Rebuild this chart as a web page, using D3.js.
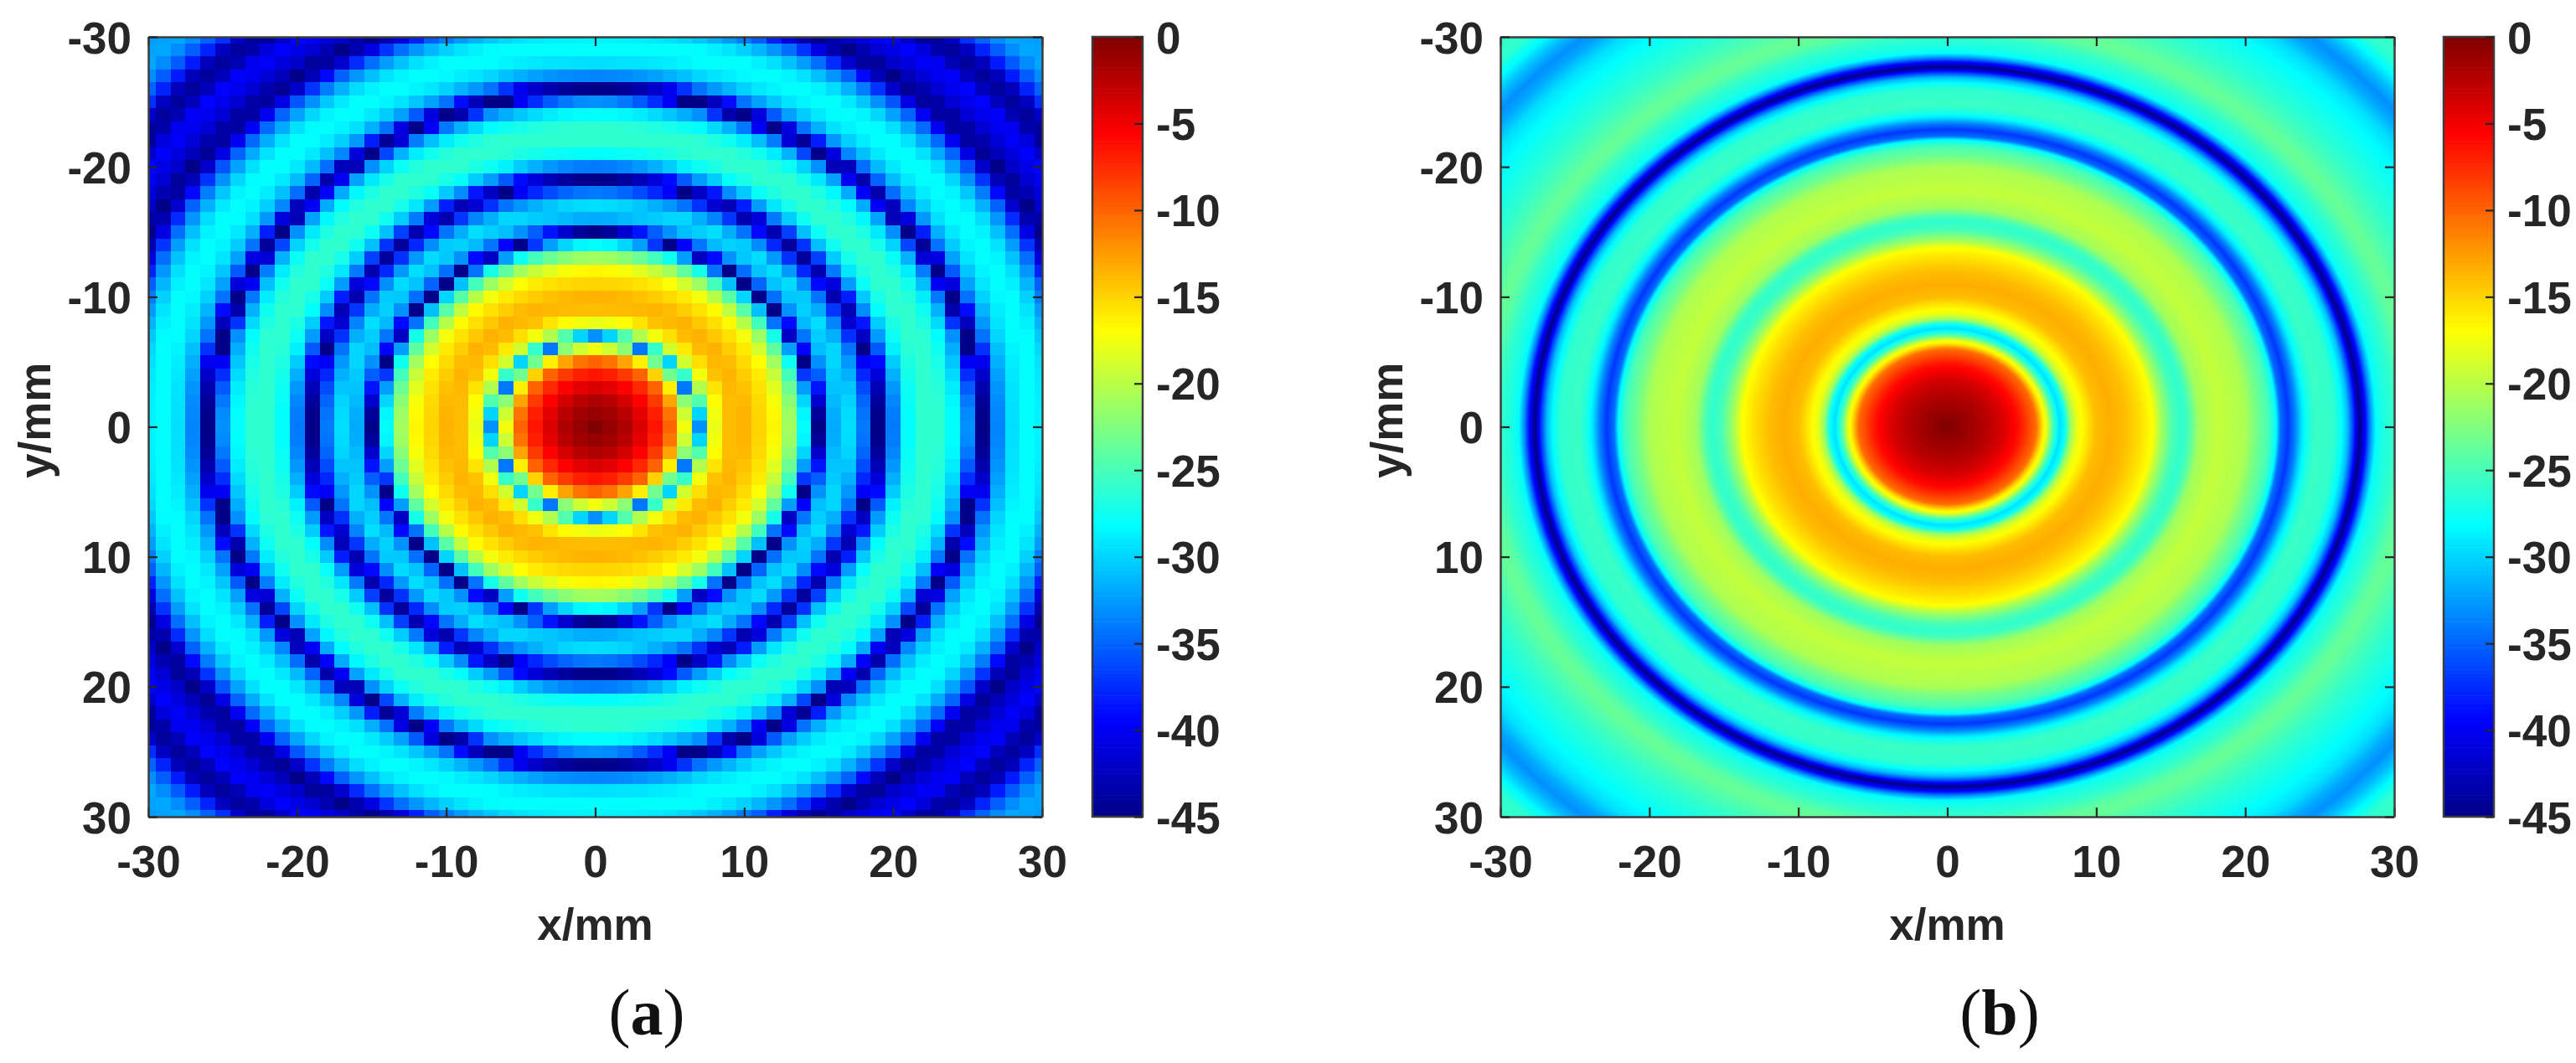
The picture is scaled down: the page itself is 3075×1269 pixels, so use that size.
<!DOCTYPE html>
<html lang="en">
<head>
<meta charset="utf-8">
<title>Radial level maps</title>
<script src="https://cdn.jsdelivr.net/npm/d3@7"></script>
<style>
	html, body { margin: 0; padding: 0; background: #fff; }
	svg { display: block; }
	.tick text, .axis-title { font-family: "Liberation Sans", Arial, sans-serif; font-weight: bold; font-size: 53px; fill: #262626; }
	.panel-label { font-family: "Liberation Serif", "Times New Roman", serif; font-size: 78px; fill: #111; }
</style>
</head>
<body>
<svg id="chart" width="3075" height="1269"></svg>
<script>
// values: level in dB against radius in mm
var radiusA = [0, 1, 2, 3, 4, 5, 6, 6.08, 6.32, 6.4, 6.7, 6.85, 7, 7.07, 7.2, 7.28, 7.6, 7.8, 8.06, 9, 10, 11, 12, 13, 14, 14.3, 14.56, 14.87, 15, 15.2, 15.5, 15.8, 16.15, 17, 18, 18.7, 18.97, 19, 19.65, 19.9, 20, 21, 22, 23, 24, 25, 25.5, 25.7, 26, 26.5, 26.7, 27, 28, 29, 29.7, 30.5, 31.2, 32, 32.8, 33.6, 34.4, 35.5, 36, 36.6, 37.2, 37.8, 38.4, 39, 39.7, 40.4, 41, 42.5];
var levelA = [0, -1, -2, -4, -6.5, -10, -17.5, -19, -22, -23, -34, -36, -33, -30, -26, -24.5, -20.5, -19, -17.5, -14, -13.5, -15, -16.5, -21, -28, -32, -37, -45, -45, -40, -35.5, -33, -31, -29.5, -34, -40, -45, -45, -39, -36, -34, -28, -26, -26, -28, -33, -40, -45, -45, -40, -37, -33.5, -29.5, -28, -28, -29.5, -32, -35.5, -42, -45, -42, -40, -39, -42, -44, -44, -42, -37.5, -35, -33, -32, -32.5];

var radiusB = [0, 2.5, 3.7, 4.5, 4.9, 6, 6.4, 6.7, 7.1, 7.56, 7.9, 8.3, 8.7, 9.2, 10, 11, 12, 13, 13.8, 14.4, 15.2, 15.8, 16.2, 16.9, 18.2, 20, 20.8, 21.6, 22.1, 22.4, 22.9, 23.4, 23.8, 24.2, 24.8, 26, 26.5, 26.9, 27.3, 27.7, 28.1, 28.4, 28.8, 29.2, 29.9, 30.8, 31.4, 33.5, 35.8, 37, 38, 38.7, 39.5, 40.4, 41.2, 42.6];
var levelB = [0, -2.2, -3.8, -5.5, -6.5, -10.5, -15.5, -18, -24.5, -29.5, -28, -21.5, -18, -16.5, -14, -13.3, -14, -15.5, -17, -21, -25, -26, -25, -21, -19.5, -20.5, -23, -25, -28, -34.5, -37, -33.5, -29.5, -27, -25.5, -26, -28, -31, -37, -45, -39, -33.5, -28, -27, -26, -24, -23.5, -26, -28, -29.5, -32, -33, -31, -28, -26, -25.5];

var gridMm = d3.range(-30, 31);
var axisTicks = [-30, -20, -10, 0, 10, 20, 30];
var colorbarTicks = [0, -5, -10, -15, -20, -25, -30, -35, -40, -45];
var jetLevels = [-45, -39.4, -28.1, -16.9, -5.6, 0];
var jetColors = ["#000088", "#0000ff", "#00ffff", "#ffff00", "#ff0000", "#800000"];

var svg = d3.select("#chart");
var color = d3.scaleLinear().domain(jetLevels).range(jetColors).clamp(true);
var levelAt = d3.scaleLinear().domain(radiusA).range(levelA).clamp(true);
var levelAtB = d3.scaleLinear().domain(radiusB).range(levelB).clamp(true);

var plotTop = 44, plotBottom = 975, plotW = 1067, barW = 60;

function styleAxis(g) {
	g.select(".domain").attr("stroke", "#3c3c3c").attr("stroke-width", 2.5);
	g.selectAll(".tick line").attr("stroke", "#262626").attr("stroke-width", 2.2);
}

function drawPanel(id, left, barLeft, label, labelX, drawMap) {
	var x = d3.scaleLinear().domain([-30, 30]).range([left, left + plotW]);
	var y = d3.scaleLinear().domain([-30, 30]).range([plotTop, plotBottom]);
	var g = svg.append("g").attr("id", id);

	svg.append("clipPath").attr("id", "clip-" + id)
		.append("rect").attr("x", left).attr("y", plotTop).attr("width", plotW).attr("height", plotBottom - plotTop);

	drawMap(g.append("g").attr("clip-path", "url(#clip-" + id + ")"), x, y);

	// box with inward ticks on all four sides
	var fmt = function(d) { return String(d); };
	g.append("g").attr("transform", "translate(0," + plotBottom + ")")
		.call(d3.axisBottom(x).tickValues(axisTicks).tickFormat(fmt).tickSizeInner(-11).tickSizeOuter(0))
		.call(styleAxis)
		.selectAll("text").attr("y", 72).attr("dy", 0);
	g.append("g").attr("transform", "translate(0," + plotTop + ")")
		.call(d3.axisTop(x).tickValues(axisTicks).tickFormat("").tickSizeInner(-11).tickSizeOuter(0))
		.call(styleAxis);
	g.append("g").attr("transform", "translate(" + left + ",0)")
		.call(d3.axisLeft(y).tickValues(axisTicks).tickFormat(fmt).tickSizeInner(-11).tickSizeOuter(0))
		.call(styleAxis)
		.selectAll("text").attr("x", -20).attr("dy", "0.36em");
	g.append("g").attr("transform", "translate(" + (left + plotW) + ",0)")
		.call(d3.axisRight(y).tickValues(axisTicks).tickFormat("").tickSizeInner(-11).tickSizeOuter(0))
		.call(styleAxis);

	g.append("text").attr("class", "axis-title")
		.attr("x", x(0)).attr("y", 1122).attr("text-anchor", "middle").text("x/mm");
	g.append("text").attr("class", "axis-title")
		.attr("transform", "translate(" + (left - 117) + "," + y(-0.5) + ") rotate(-90)")
		.attr("text-anchor", "middle").text("y/mm");

	// colorbar
	var bar = d3.scaleLinear().domain([0, -45]).range([plotTop, plotBottom]);
	g.append("g").selectAll("rect").data(d3.range(-45, 0, 0.25)).join("rect")
		.attr("x", barLeft).attr("width", barW)
		.attr("y", function(d) { return bar(d + 0.25); })
		.attr("height", function(d) { return bar(d) - bar(d + 0.25) + 0.6; })
		.attr("fill", function(d) { return color(d + 0.125); });
	g.append("rect").attr("x", barLeft).attr("y", plotTop).attr("width", barW).attr("height", plotBottom - plotTop)
		.attr("fill", "none").attr("stroke", "#3c3c3c").attr("stroke-width", 2.5);
	g.append("g").attr("transform", "translate(" + (barLeft + barW) + ",0)")
		.call(d3.axisRight(bar).tickValues(colorbarTicks).tickFormat(fmt).tickSizeInner(-10).tickSizeOuter(0))
		.call(styleAxis)
		.call(function(a) { a.select(".domain").remove(); })
		.selectAll("text").attr("x", 16).attr("dy", "0.36em").attr("text-anchor", "start");

	var t = g.append("text").attr("class", "panel-label")
		.attr("x", labelX).attr("y", 1235).attr("text-anchor", "middle");
	t.append("tspan").text("(");
	t.append("tspan").attr("font-weight", "bold").text(label);
	t.append("tspan").text(")");
}

// (a) coarse 1 mm cells
drawPanel("panel-a", 177, 1304, "a", 772, function(g, x, y) {
	var cells = d3.cross(gridMm, gridMm);
	g.attr("shape-rendering", "crispEdges").selectAll("rect").data(cells).join("rect")
		.attr("x", function(d) { return x(d[0] - 0.5); })
		.attr("y", function(d) { return y(d[1] - 0.5); })
		.attr("width", x(1) - x(0) + 0.5)
		.attr("height", y(1) - y(0) + 0.5)
		.attr("fill", function(d) { return color(levelAt(Math.hypot(d[0], d[1]))); });
});

// (b) smooth map, painted outside in as nested ellipses
drawPanel("panel-b", 1791, 2917, "b", 2387, function(g, x, y) {
	g.selectAll("ellipse").data(d3.range(43, 0, -0.05)).join("ellipse")
		.attr("cx", x(0)).attr("cy", y(0))
		.attr("rx", function(r) { return x(r) - x(0); })
		.attr("ry", function(r) { return y(r) - y(0); })
		.attr("fill", function(r) { return color(levelAtB(r)); });
});
</script>
</body>
</html>
